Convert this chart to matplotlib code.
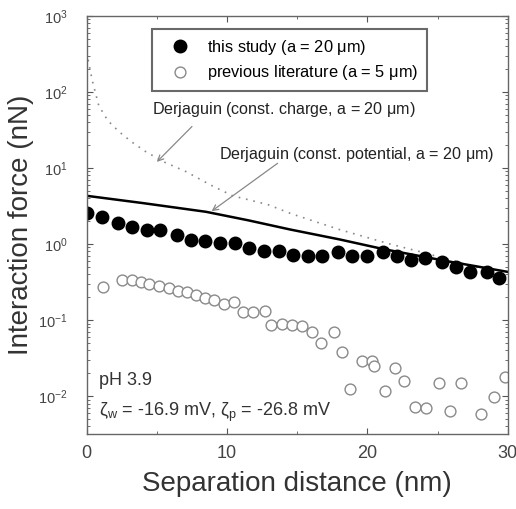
import matplotlib
matplotlib.use("Agg")
import matplotlib.pyplot as plt
from matplotlib.ticker import LogLocator, MultipleLocator, NullFormatter

plt.rcParams['font.family'] = ['Liberation Sans', 'DejaVu Sans']
plt.rcParams['mathtext.fontset'] = 'custom'
plt.rcParams['mathtext.rm'] = 'Liberation Sans'
plt.rcParams['mathtext.it'] = 'Liberation Sans:italic'

# this study (a = 20 um)
x_study = [0.0, 1.07, 2.2, 3.2, 4.3, 5.2, 6.4, 7.4, 8.4, 9.5, 10.6, 11.6, 12.6, 13.7,
           14.7, 15.8, 16.8, 17.9, 18.9, 20.0, 21.1, 22.1, 23.1, 24.1, 25.3, 26.3,
           27.3, 28.5, 29.4]
y_study = [2.56, 2.27, 1.89, 1.67, 1.53, 1.53, 1.31, 1.13, 1.09, 1.03, 1.03, 0.886,
           0.81, 0.81, 0.716, 0.695, 0.695, 0.785, 0.695, 0.695, 0.785, 0.695, 0.616,
           0.654, 0.58, 0.50, 0.43, 0.43, 0.357]

# previous literature (a = 5 um)
x_prev = [1.14, 2.5, 3.2, 3.86, 4.43, 5.14, 5.86, 6.5, 7.14, 7.79, 8.43, 9.07, 9.79,
          10.5, 11.14, 11.86, 12.7, 13.14, 13.93, 14.64, 15.36, 16.07, 16.71, 17.64,
          18.21, 18.79, 19.64, 20.36, 20.5, 21.29, 22.0, 22.64, 23.36, 24.21, 25.07,
          25.86, 26.64, 28.07, 29.0, 29.79]
y_prev = [0.270, 0.334, 0.334, 0.315, 0.296, 0.279, 0.262, 0.239, 0.232, 0.212, 0.194,
          0.182, 0.161, 0.171, 0.126, 0.126, 0.130, 0.085, 0.0877, 0.085, 0.0826,
          0.0689, 0.0507, 0.0689, 0.0386, 0.0125, 0.0294, 0.0294, 0.0252, 0.0118,
          0.0237, 0.0160, 0.00724, 0.00703, 0.0150, 0.00641, 0.0150, 0.00586,
          0.0098, 0.0180]

# Derjaguin, constant potential (a = 20 um)
x_pot = [0, 4, 8.5, 11.5, 14.5, 18, 21.1, 24, 26, 28, 30]
y_pot = [4.3, 3.45, 2.65, 2.05, 1.55, 1.15, 0.86, 0.68, 0.58, 0.5, 0.43]

# Derjaguin, constant charge (a = 20 um)
x_chg = [0, 0.4, 0.86, 1.5, 2.3, 3.2, 4.2, 5.5, 7.1, 8.8, 10.4, 12.9, 14.6, 18, 21.6,
         23.9, 27.5, 30]
y_chg = [330, 140, 66, 42, 30, 22, 16.4, 12, 8.9, 6.0, 4.3, 3.3, 2.49, 1.55, 1.0,
         0.78, 0.51, 0.37]

fig = plt.figure(figsize=(5.16, 5.09), dpi=100)
ax = fig.add_axes([0.168, 0.147, 0.816, 0.822])

ax.plot(x_chg, y_chg, linestyle=(0, (1, 3.5)), color='#888888', lw=1.2)
ax.plot(x_pot, y_pot, '-', color='black', lw=1.8)
ax.plot(x_study, y_study, 'o', ms=9, color='black', mec='black',
        label='this study (a = 20 $\\mathrm{\\mu}$m)')
ax.plot(x_prev, y_prev, 'o', ms=7.8, mfc='white', mec='#8a8a8a', mew=1.0,
        label='previous literature (a = 5 $\\mathrm{\\mu}$m)')

ax.set_yscale('log')
ax.set_xlim(0, 30)
ax.set_ylim(10 ** -2.5, 1e3)
ax.xaxis.set_major_locator(MultipleLocator(10))
ax.xaxis.set_minor_locator(MultipleLocator(5))
ax.yaxis.set_major_locator(LogLocator(base=10, numticks=10))
ax.yaxis.set_minor_locator(LogLocator(base=10, subs=range(2, 10), numticks=20))
ax.yaxis.set_minor_formatter(NullFormatter())
ax.tick_params(which='both', direction='in', top=True, right=True, colors='#555555',
               labelcolor='#444444')
ax.tick_params(which='major', length=4)
ax.tick_params(which='minor', length=2.5)
ax.tick_params(axis='x', which='major', labelsize=13, pad=8)
ax.tick_params(axis='y', which='major', labelsize=10.5, pad=14)
for s in ax.spines.values():
    s.set_color('#666666')
    s.set_linewidth(1.0)

ax.set_xlabel('Separation distance (nm)', fontsize=20, color='#333333', labelpad=6)
ax.set_ylabel('Interaction force (nN)', fontsize=20, color='#333333')
ax.yaxis.set_label_coords(-0.124, 0.5)

leg = ax.legend(loc='upper left', bbox_to_anchor=(0.154, 0.969), fontsize=11.8,
                frameon=True, fancybox=False, edgecolor='#444444', borderpad=0.55,
                borderaxespad=0, handletextpad=0.45, labelspacing=0.4,
                handlelength=2.4)
leg.get_frame().set_linewidth(1.5)

# curve labels and their arrows
ax.text(4.65, 58, 'Derjaguin (const. charge, a = 20 $\\mathrm{\\mu}$m)', fontsize=11.6,
        color='#222222', va='center')
ax.text(9.4, 14.8, 'Derjaguin (const. potential, a = 20 $\\mathrm{\\mu}$m)',
        fontsize=11.6, color='#222222', va='center')
ax.annotate('', xy=(5.0, 12), xytext=(7.5, 35),
            arrowprops=dict(arrowstyle='->', color='#888888', lw=0.9,
                            shrinkA=0, shrinkB=0))
ax.annotate('', xy=(8.9, 2.7), xytext=(13.6, 11.5),
            arrowprops=dict(arrowstyle='->', color='#888888', lw=0.9,
                            shrinkA=0, shrinkB=0))

ax.text(0.03, 0.129, 'pH 3.9', transform=ax.transAxes, fontsize=13, color='#333333',
        va='center')
ax.text(0.03, 0.053,
        '$\\mathrm{\\zeta_w}$ = -16.9 mV, $\\mathrm{\\zeta_p}$ = -26.8 mV',
        transform=ax.transAxes, fontsize=13, color='#333333', va='center')

fig.savefig('out.png', dpi=100)
